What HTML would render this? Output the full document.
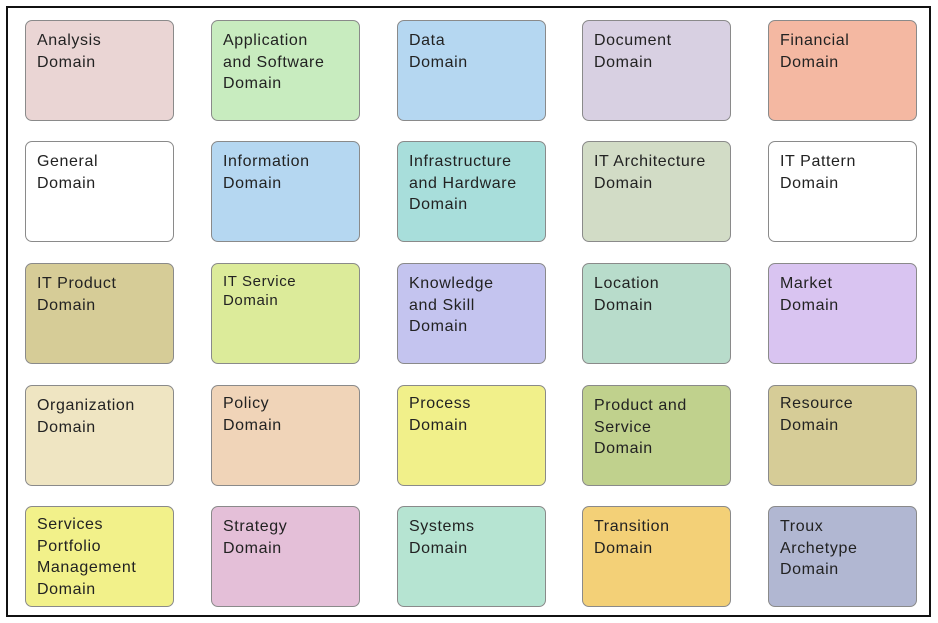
<!DOCTYPE html><html><head><style>
body{margin:0;width:938px;height:623px;background:#fff;position:relative;overflow:hidden;font-family:"Liberation Sans",sans-serif}
.f{position:absolute;left:6px;top:6px;width:921px;height:607px;border:2px solid #111}
.b{position:absolute;height:99px;border:1px solid #8a8a8a;border-radius:7px;font-size:16px;line-height:21.5px;letter-spacing:0.6px;color:#222;padding:0 0 0 11px;box-sizing:content-box;width:136px;white-space:nowrap}
.b span{display:block;margin-top:9px}
</style></head><body><div class="f"></div>
<div class="b" style="left:25px;top:20px;background:#ead5d4"><span>Analysis<br>Domain</span></div>
<div class="b" style="left:211px;top:20px;background:#c8ecbf"><span>Application<br>and Software<br>Domain</span></div>
<div class="b" style="left:397px;top:20px;background:#b5d7f1"><span>Data<br>Domain</span></div>
<div class="b" style="left:582px;top:20px;background:#d8d0e2"><span>Document<br>Domain</span></div>
<div class="b" style="left:768px;top:20px;background:#f4b8a2"><span>Financial<br>Domain</span></div>
<div class="b" style="left:25px;top:141px;background:#fff"><span>General<br>Domain</span></div>
<div class="b" style="left:211px;top:141px;background:#b5d7f1"><span>Information<br>Domain</span></div>
<div class="b" style="left:397px;top:141px;background:#a8dedb"><span>Infrastructure<br>and Hardware<br>Domain</span></div>
<div class="b" style="left:582px;top:141px;background:#d2dcc6"><span>IT Architecture<br>Domain</span></div>
<div class="b" style="left:768px;top:141px;background:#fff"><span>IT Pattern<br>Domain</span></div>
<div class="b" style="left:25px;top:263px;background:#d6cc97"><span>IT Product<br>Domain</span></div>
<div class="b" style="left:211px;top:263px;background:#dceb9a"><span style="margin-top:8px;line-height:19px;font-size:15px">IT Service<br>Domain</span></div>
<div class="b" style="left:397px;top:263px;background:#c4c4ef"><span>Knowledge<br>and Skill<br>Domain</span></div>
<div class="b" style="left:582px;top:263px;background:#b8dccb"><span>Location<br>Domain</span></div>
<div class="b" style="left:768px;top:263px;background:#d9c4f1"><span>Market<br>Domain</span></div>
<div class="b" style="left:25px;top:385px;background:#efe5c2"><span>Organization<br>Domain</span></div>
<div class="b" style="left:211px;top:385px;background:#f0d4b8"><span style="margin-top:7px">Policy<br>Domain</span></div>
<div class="b" style="left:397px;top:385px;background:#f1f08a"><span style="margin-top:7px">Process<br>Domain</span></div>
<div class="b" style="left:582px;top:385px;background:#c0d18d"><span>Product and<br>Service<br>Domain</span></div>
<div class="b" style="left:768px;top:385px;background:#d6cc97"><span style="margin-top:7px">Resource<br>Domain</span></div>
<div class="b" style="left:25px;top:506px;background:#f2f18a"><span style="margin-top:7px">Services<br>Portfolio<br>Management<br>Domain</span></div>
<div class="b" style="left:211px;top:506px;background:#e4bfd8"><span>Strategy<br>Domain</span></div>
<div class="b" style="left:397px;top:506px;background:#b6e4d2"><span>Systems<br>Domain</span></div>
<div class="b" style="left:582px;top:506px;background:#f3d077"><span>Transition<br>Domain</span></div>
<div class="b" style="left:768px;top:506px;background:#b1b7d2"><span>Troux<br>Archetype<br>Domain</span></div>
</body></html>
